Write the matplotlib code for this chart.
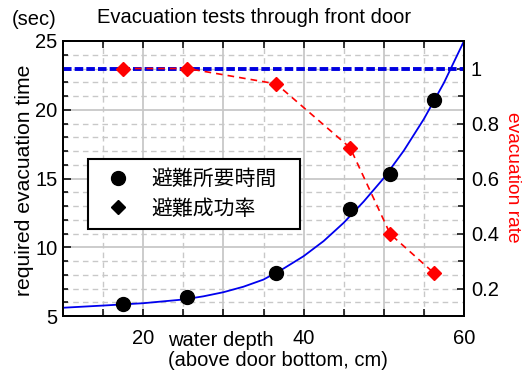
import numpy as np
import matplotlib.pyplot as plt
from matplotlib.lines import Line2D
from matplotlib.ticker import MultipleLocator, FixedLocator, FixedFormatter

plt.rcParams['font.family'] = ['Liberation Sans', 'DejaVu Sans']

# measured points
depth = [17.5, 25.5, 36.6, 45.8, 50.8, 56.3]
evac_time = [5.87, 6.36, 8.1, 12.78, 15.33, 20.7]
evac_rate = [1.0, 1.0, 0.944, 0.712, 0.398, 0.255]
full_rate = 1.0

# fitted curve
curve_x = [10, 15, 20, 25, 27.5, 30, 32.5, 35, 37.5, 40, 42.5, 45, 47.5, 50,
           52.5, 55, 57.5, 60]
curve_y = [5.6, 5.76, 5.93, 6.2, 6.43, 6.73, 7.13, 7.65, 8.45, 9.35, 10.45, 11.78,
           13.33, 15.03, 17.03, 19.33, 21.96, 25.0]

xtick_pos = [20, 40, 60]
xtick_labels = ['20', '40', '60']
legend_labels = ['避難所要時間', '避難成功率']

W, H = 526, 376
fig = plt.figure(figsize=(W / 100, H / 100), dpi=100)
ax = fig.add_axes([63 / W, 1 - 316 / H, 401 / W, 275 / H])
ax2 = ax.twinx()

fs = 14.5
grid_c = '#c8c8c8'

# left axis
ax.set_xlim(10, 60)
ax.set_ylim(5, 25)
ax.xaxis.set_major_locator(MultipleLocator(10))
ax.xaxis.set_minor_locator(MultipleLocator(5))
ax.yaxis.set_major_locator(MultipleLocator(5))
ax.yaxis.set_minor_locator(MultipleLocator(1))
ax.grid(which='major', color=grid_c, lw=1.3, ls='-')
ax.grid(which='minor', color=grid_c, lw=1.0, ls=(0, (4, 3)))
ax.set_axisbelow(True)
ax.tick_params(axis='x', which='both', direction='in', top=True, length=5, width=1.1,
               labelsize=fs, pad=9)
ax.tick_params(axis='y', which='major', direction='in', length=6, width=1.1,
               labelsize=fs, pad=4)
ax.tick_params(axis='y', which='minor', direction='in', length=3.5, width=1.1)
ax.xaxis.set_major_formatter(plt.NullFormatter())
sec = ax.secondary_xaxis('bottom')
sec.xaxis.set_major_locator(FixedLocator(xtick_pos))
sec.xaxis.set_major_formatter(FixedFormatter(xtick_labels))
sec.tick_params(length=0, labelsize=fs, pad=9)
sec.spines['bottom'].set_visible(False)
for s in ax.spines.values():
    s.set_linewidth(1.3)

ax.plot(curve_x, curve_y, color='#0000ee', lw=1.3, zorder=3)
ax.plot(depth, evac_time, 'o', color='black', ms=10, zorder=4)

# right axis
ax2.set_ylim(0.1, 1.1)
ax2.yaxis.set_major_locator(MultipleLocator(0.2))
ax2.yaxis.set_minor_locator(MultipleLocator(0.1))
ax2.yaxis.set_major_formatter(plt.FuncFormatter(lambda v, p: f'{v:g}'))
ax2.tick_params(axis='y', which='major', direction='in', length=5, width=1.1,
                labelsize=fs, pad=5)
ax2.tick_params(axis='y', which='minor', direction='in', length=4, width=1.1)
for s in ax2.spines.values():
    s.set_linewidth(1.3)

ax2.axhline(full_rate, color='#0000e0', lw=2.8, ls=(0, (2.2, 0.8)), zorder=2)
ax2.plot(depth, evac_rate, color='red', lw=1.2, ls=(0, (4, 3)), marker='D', ms=7,
         mec='red', mfc='red', zorder=3)

handles = [Line2D([], [], ls='none', marker='o', color='black', ms=10),
           Line2D([], [], ls='none', marker='D', color='black', ms=7.5)]
leg = ax2.legend(handles, legend_labels, loc='upper left',
                 bbox_to_anchor=(25 / 401, 157 / 275, 212 / 401, 0.0), mode='expand',
                 borderaxespad=0, borderpad=0.45, handlelength=2.0, handletextpad=0.6,
                 labelspacing=0.35, fancybox=False, framealpha=1, edgecolor='black',
                 prop={'family': ['Noto Sans CJK JP', 'DejaVu Sans'], 'size': 15})
leg.get_frame().set_linewidth(1.5)

# texts
def fx(x):
    return x / W

def fy(y):
    return 1 - y / H

fig.text(fx(97), fy(23), 'Evacuation tests through front door', fontsize=fs,
         ha='left', va='baseline')
fig.text(fx(12), fy(25), '(sec)', fontsize=fs, ha='left', va='baseline')
fig.text(fx(25), fy(180), 'required evacuation time', fontsize=15.2, rotation=90,
         ha='center', va='center')
fig.text(fx(512), fy(177), 'evacuation rate', fontsize=13.8, rotation=270,
         ha='center', va='center', color='red')
fig.text(fx(168), fy(346), 'water depth', fontsize=fs, ha='left', va='baseline')
fig.text(fx(168), fy(366), '(above door bottom, cm)', fontsize=fs, ha='left',
         va='baseline')

fig.savefig('out.png', dpi=100)
